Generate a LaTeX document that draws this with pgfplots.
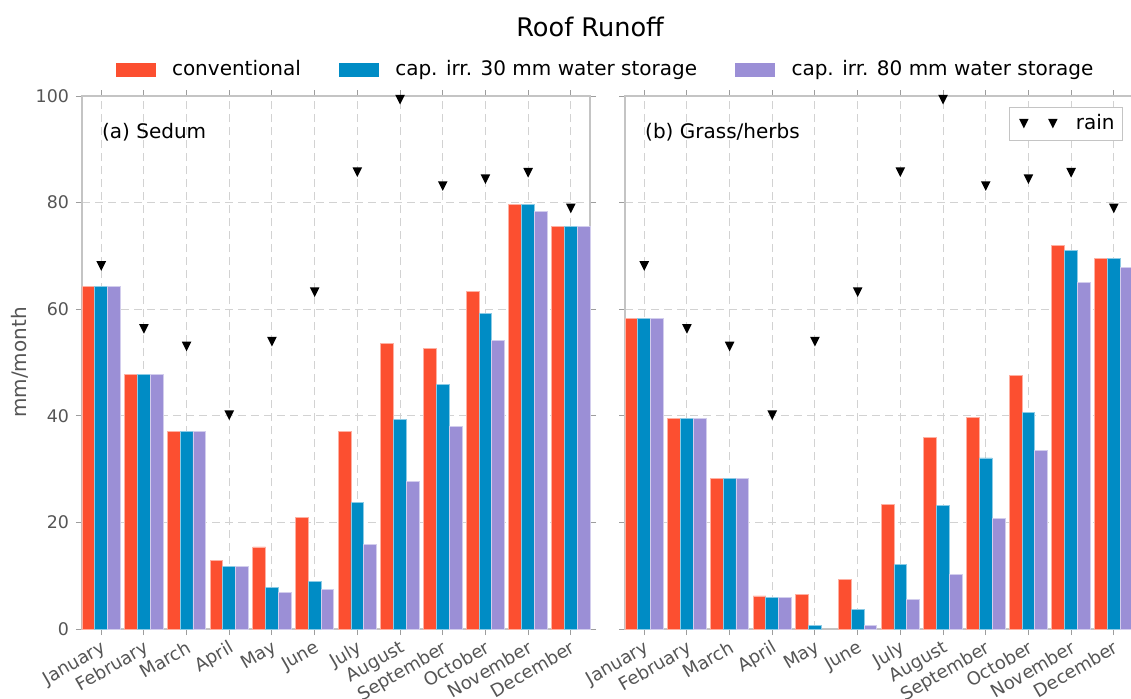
\documentclass[border=0pt]{standalone}
\usepackage{pgfplots}
\pgfplotsset{compat=1.18}
\usepackage{pgfplotstable}
\usepackage{fontspec}
\setmainfont{DejaVu Sans}
\definecolor{cred}{HTML}{FC4F30}
\definecolor{cblue}{HTML}{008CC5}
\definecolor{cpurp}{HTML}{9B8FD6}
\definecolor{spine}{HTML}{C4C4C4}
\definecolor{gridc}{HTML}{D2D2D2}
\definecolor{ticklab}{HTML}{555555}

\pgfdeclareplotmark{dtri}{%
  \pgfpathmoveto{\pgfqpoint{-\pgfplotmarksize}{\pgfplotmarksize}}%
  \pgfpathlineto{\pgfqpoint{\pgfplotmarksize}{\pgfplotmarksize}}%
  \pgfpathlineto{\pgfqpoint{0pt}{-\pgfplotmarksize}}%
  \pgfpathclose\pgfusepathqfill}

\pgfplotstableread{
m  a     b     c     rain
0  64.2  64.2  64.2  68.1
1  47.8  47.8  47.8  56.3
2  37.1  37.1  37.1  53.0
3  12.8  11.8  11.8  40.1
4  15.4  7.8   6.8   53.9
5  21.0  9.0   7.4   63.2
6  37.0  23.7  15.9  85.7
7  53.6  39.3  27.6  99.3
8  52.7  45.8  38.0  83.1
9  63.3  59.2  54.2  84.4
10 79.7  79.7  78.3  85.6
11 75.6  75.6  75.6  78.9
}\sedum

\pgfplotstableread{
m  a     b     c     rain
0  58.3  58.3  58.3  68.1
1  39.5  39.5  39.5  56.3
2  28.3  28.3  28.3  53.0
3  6.2   5.9   5.9   40.1
4  6.5   0.7   nan   53.9
5  9.3   3.75  0.7   63.2
6  23.3  12.1  5.6   85.7
7  36.0  23.1  10.3  99.3
8  39.7  32.1  20.8  83.1
9  47.6  40.6  33.5  84.4
10 72.0  71.0  65.1  85.6
11 69.5  69.5  67.9  78.9
}\grass

\pgfplotsset{
  panel/.style={
    width=254pt, height=266.5pt, scale only axis,
    xmin=-0.45, xmax=11.45, ymin=0, ymax=100,
    xtick={0,...,11},
    xticklabels={January,February,March,April,May,June,July,August,September,October,November,December},
    ytick={0,20,...,100},
    grid=major,
    major grid style={gridc, dash pattern=on 4pt off 2.5pt, line width=0.5pt},
    axis line style={spine, line width=0.6pt},
    tick align=outside, tick pos=both, major tick length=3pt,
    xticklabel pos=lower, yticklabel pos=left,
    major tick style={spine!80!black, line width=0.5pt},
    xticklabel style={rotate=30, anchor=north east, inner sep=1.5pt,
      font=\fontsize{9}{10}\selectfont, text=ticklab},
    yticklabel style={font=\fontsize{8.7}{10}\selectfont, text=ticklab},
    /pgf/number format/assume math mode=true,
    unbounded coords=discard,
    clip=false,
  },
  rainplot/.style={only marks, mark=dtri, mark size=2.4pt, black},
  rainleg/.style={legend image code/.code={\draw[##1] plot coordinates {(0pt,0pt) (14.5pt,0pt)};
      \path[draw=none,fill=none] (-5pt,0pt) rectangle (24pt,0.1pt);}},
  patchleg/.style={legend image code/.code={\fill[#1] (0pt,-3.2pt) rectangle (19.5pt,3.2pt);
      \path[draw=none,fill=none] (0pt,0pt) rectangle (26pt,0.1pt);}},
}

\begin{document}
\begin{tikzpicture}
\useasboundingbox (-41pt,-34.5pt) rectangle (524.5pt,314.5pt);
\node[anchor=base, font=\fontsize{12.8}{15}\selectfont] at (254pt,296.2pt) {Roof Runoff};

\begin{axis}[panel,
  at={(0pt,0pt)}, anchor=south west,
  ylabel={mm/month},
  every axis y label/.style={at={(rel axis cs:-0.122,0.5)}, rotate=90, anchor=center,
    font=\fontsize{10}{12}\selectfont, text=ticklab},
  legend style={at={(rel axis cs:1.0325,1.0497)}, anchor=center, draw=none, fill=none,
    legend columns=3, font=\fontsize{10}{12}\selectfont,
    /tikz/every even column/.append style={column sep=17pt}},
  legend cell align=left,
]
\addplot[ybar, bar width=0.3, bar shift=-0.3, fill=cred, draw=cred!45!white, line width=0.4pt,
  patchleg=cred]
  table[x=m,y=a]{\sedum};
\addlegendentry{conventional}
\addplot[ybar, bar width=0.3, bar shift=0, fill=cblue, draw=cblue!45!white, line width=0.4pt,
  patchleg=cblue]
  table[x=m,y=b]{\sedum};
\addlegendentry{cap. irr. 30 mm water storage}
\addplot[ybar, bar width=0.3, bar shift=0.3, fill=cpurp, draw=cpurp!45!white, line width=0.4pt,
  patchleg=cpurp]
  table[x=m,y=c]{\sedum};
\addlegendentry{cap. irr. 80 mm water storage}
\addplot[rainplot, forget plot] table[x=m,y=rain]{\sedum};
\node[anchor=base west, inner sep=0pt, font=\fontsize{10}{12}\selectfont]
  at (rel axis cs:0.0388,0.9206) {(a) Sedum};
\end{axis}

\begin{axis}[panel,
  at={(271.5pt,0pt)}, anchor=south west,
  yticklabels={},
  legend style={at={(rel axis cs:1,1)}, anchor=north east, xshift=-5pt, yshift=-5.3pt,
    draw=spine, fill=white, font=\fontsize{10}{12}\selectfont,
    inner xsep=2pt, inner ysep=1.75pt},
]
\addplot[ybar, bar width=0.3, bar shift=-0.3, fill=cred, draw=cred!45!white, line width=0.4pt, forget plot]
  table[x=m,y=a]{\grass};
\addplot[ybar, bar width=0.3, bar shift=0, fill=cblue, draw=cblue!45!white, line width=0.4pt, forget plot]
  table[x=m,y=b]{\grass};
\addplot[ybar, bar width=0.3, bar shift=0.3, fill=cpurp, draw=cpurp!45!white, line width=0.4pt, forget plot]
  table[x=m,y=c]{\grass};
\addplot[rainplot, rainleg]
  table[x=m,y=rain]{\grass};
\addlegendentry{rain}
\node[anchor=base west, inner sep=0pt, font=\fontsize{10}{12}\selectfont]
  at (rel axis cs:0.039,0.9206) {(b) Grass/herbs};
\end{axis}
\end{tikzpicture}
\end{document}
